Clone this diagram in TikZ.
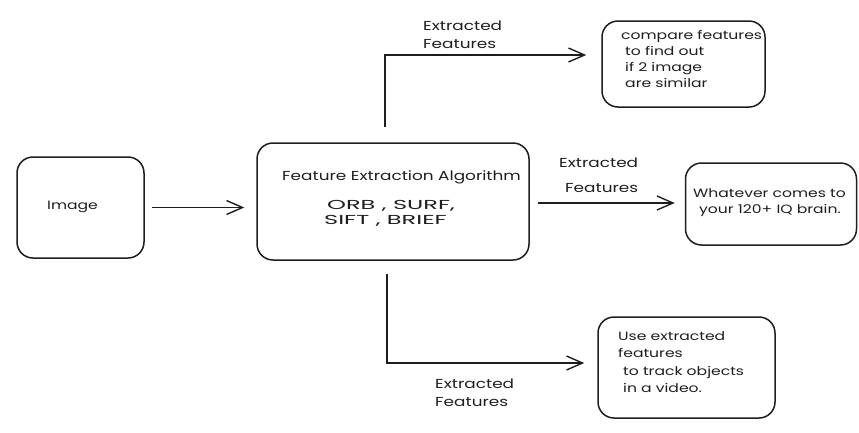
\documentclass[tikz,border=0pt]{standalone}
\usepackage{fontspec}
\setmainfont[FakeStretch=1.3]{Poppins}
\newfontfamily\widefont[FakeStretch=1.85]{Poppins}
\usetikzlibrary{arrows.meta}
\definecolor{ink}{HTML}{1E1E1E}
\newcommand\mlines[1]{\begin{tabular}[t]{@{}l@{}}#1\end{tabular}}
\tikzset{
  box/.style={draw=ink, line width=1.5pt, rounded corners=16pt, inner sep=0pt},
  txt/.style={text=ink, font=\fontsize{12}{16}\selectfont, inner sep=0pt, anchor=base west},
  lbl/.style={text=ink, font=\fontsize{13}{18}\selectfont, inner sep=0pt, anchor=base west},
  arr/.style={draw=ink, line width=1.4pt, -{Straight Barb[length=16pt,width=14pt,line width=1.4pt]}},
}
\begin{document}
\begin{tikzpicture}[x=1pt,y=-1pt]
\useasboundingbox (0,0) rectangle (859,432);
% boxes
\node[box, minimum width=127pt, minimum height=101pt] (img) at (80.5,207.5) {};
\node[box, minimum width=272pt, minimum height=117pt] (feat) at (393,201.5) {};
\node[box, minimum width=163pt, minimum height=86pt] (cmp) at (683.5,64) {};
\node[box, minimum width=171pt, minimum height=82pt] (iq) at (771,204) {};
\node[box, minimum width=177pt, minimum height=101pt] (trk) at (686.5,367.5) {};
% texts
\node[txt] (imgt) at (47,209) {Image};
\node[txt, font=\fontsize{13}{16}\selectfont] (featt) at (282,180) {Feature Extraction Algorithm};
\node[txt, font=\widefont\fontsize{13}{15}\selectfont] (algt) at (324,209) {\mlines{\hspace{3pt}ORB , SURF,\\SIFT , BRIEF}};
\node[txt] (cmpt) at (621,39) {\mlines{compare features\\\hspace{4pt}to find out\\\hspace{4pt}if 2 image\\\hspace{4pt}are similar}};
\node[txt] (iqt) at (693,197) {\mlines{Whatever comes to\\\hspace{6pt}your 120+ IQ brain.}};
\node[txt, font=\fontsize{12}{17.6}\selectfont] (trkt) at (618,340) {\mlines{Use extracted\\features\\\hspace{5pt}to track objects\\\hspace{5pt}in a video.}};
% labels
\node[lbl] (l1) at (423,30) {\mlines{Extracted\\Features}};
\node[lbl] (l2) at (559,167) {Extracted};
\node[lbl] (l3) at (565,192) {Features};
\node[lbl] (l4) at (435,388) {\mlines{Extracted\\Features}};
% connectors
\coordinate (b1) at (385,0);
\coordinate (b2) at (387,0);
\draw[arr, shorten <=7pt, shorten >=12pt] (img.east) -- (img.east -| feat.west);
\draw[arr, shorten <=15pt, shorten >=15pt] (feat.north -| b1) |- ([yshift=9pt]cmp.west);
\draw[arr, shorten <=8pt, shorten >=10pt] ([yshift=-1.5pt]feat.east) -- ([yshift=-1.5pt]feat.east -| iq.west);
\draw[arr, shorten <=13pt, shorten >=13pt] (feat.south -| b2) |- ([yshift=4.5pt]trk.west);
\end{tikzpicture}
\end{document}
